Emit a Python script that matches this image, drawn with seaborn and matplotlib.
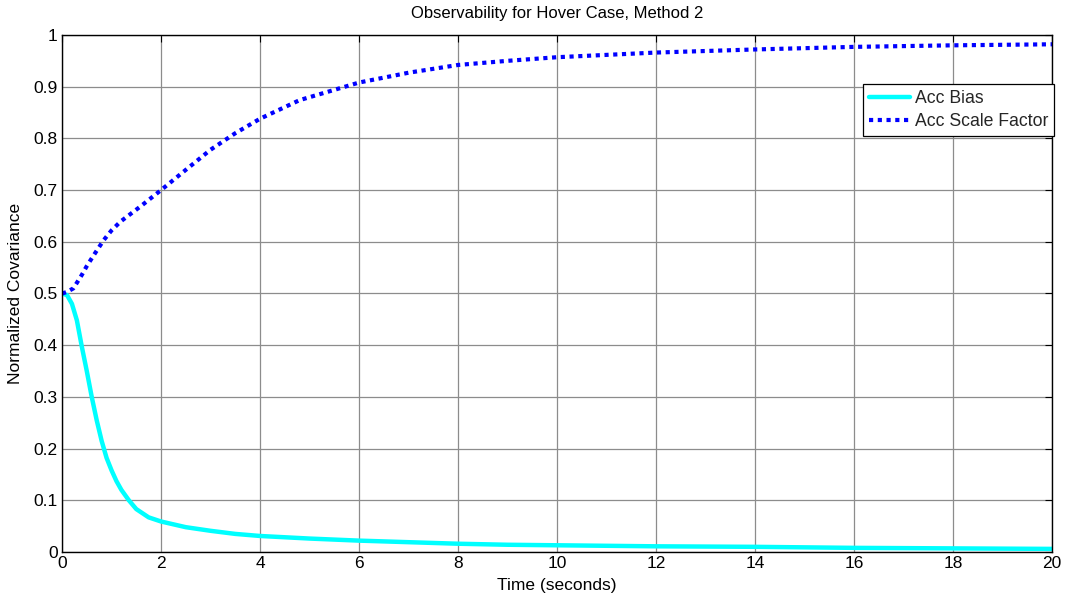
import matplotlib
matplotlib.use("Agg")
import matplotlib.pyplot as plt
import seaborn as sns
import pandas as pd

# Normalized covariance of the accelerometer states over time
bias_time = [0, 0.1, 0.2, 0.3, 0.4, 0.5, 0.6, 0.7, 0.8, 0.9, 1.0, 1.1, 1.2, 1.35,
             1.5, 1.75, 2, 2.5, 3, 3.5, 4, 5, 6, 7, 8, 9, 10, 12, 14, 16, 18, 20]
acc_bias = [0.500, 0.497, 0.480, 0.448, 0.397, 0.350, 0.300, 0.255, 0.215, 0.182,
            0.158, 0.137, 0.120, 0.100, 0.083, 0.067, 0.059, 0.048, 0.041, 0.035,
            0.031, 0.026, 0.022, 0.019, 0.016, 0.014, 0.013, 0.011, 0.010, 0.008,
            0.007, 0.006]

scale_time = [0, 0.1, 0.23, 0.4, 0.5, 0.64, 0.84, 1.0, 1.18, 1.4, 1.58, 2.0, 2.46,
              3.0, 3.5, 4.0, 4.8, 6, 7, 8, 9, 10, 12, 14, 16, 18, 20]
acc_scale = [0.500, 0.503, 0.510, 0.536, 0.553, 0.574, 0.603, 0.622, 0.639, 0.655,
             0.668, 0.700, 0.736, 0.778, 0.810, 0.838, 0.874, 0.908, 0.927, 0.942,
             0.950, 0.957, 0.966, 0.972, 0.977, 0.980, 0.982]

x_ticks = list(range(0, 21, 2))
y_ticks = [0, 0.1, 0.2, 0.3, 0.4, 0.5, 0.6, 0.7, 0.8, 0.9, 1]
y_tick_labels = ["0", "0.1", "0.2", "0.3", "0.4", "0.5", "0.6", "0.7", "0.8", "0.9", "1"]

sns.set_style("whitegrid")
plt.rcParams["font.family"] = ["Liberation Sans", "DejaVu Sans"]

fig = plt.figure(figsize=(10.77, 6.0), dpi=100)
ax = fig.add_axes([0.0576, 0.08, 0.9192, 0.8617])

bias_df = pd.DataFrame({"t": bias_time, "v": acc_bias})
scale_df = pd.DataFrame({"t": scale_time, "v": acc_scale})

sns.lineplot(data=bias_df, x="t", y="v", ax=ax, color="#00FFFF", linewidth=3.2,
             label="Acc Bias", sort=False)
sns.lineplot(data=scale_df, x="t", y="v", ax=ax, color="#0000FF", linewidth=3.0,
             linestyle=(0, (1, 1.1)), label="Acc Scale Factor", sort=False)
for ln in ax.lines[1:2]:
    ln.set_dash_capstyle("butt")

ax.set_xlim(0, 20)
ax.set_ylim(0, 1)
ax.set_xticks(x_ticks)
ax.set_xticklabels([str(v) for v in x_ticks])
ax.set_yticks(y_ticks)
ax.set_yticklabels(y_tick_labels)

ax.grid(True, color="#8c8c8c", linewidth=0.9, linestyle="-")
ax.set_axisbelow(True)
for side in ["left", "right", "top", "bottom"]:
    ax.spines[side].set_visible(True)
    ax.spines[side].set_color("black")
    ax.spines[side].set_linewidth(1.0)

ax.tick_params(direction="in", length=5, width=0.8, color="black",
               top=True, right=True, labelsize=12.5, labelcolor="black", pad=3)

ax.set_title("Observability for Hover Case, Method 2", fontsize=12, color="black", pad=12)
ax.set_xlabel("Time (seconds)", fontsize=12.5, color="black", labelpad=5)
ax.set_ylabel("Normalized Covariance", fontsize=12.5, color="black", labelpad=8)

leg = ax.legend(loc="upper right", bbox_to_anchor=(1.002, 0.905), fontsize=12.7,
                frameon=True, fancybox=False, framealpha=1, edgecolor="black",
                handlelength=2.3, handletextpad=0.3, borderpad=0.32,
                labelspacing=0.35, borderaxespad=0)
leg.get_frame().set_linewidth(0.9)

fig.savefig("out.png", dpi=100, facecolor="white")
